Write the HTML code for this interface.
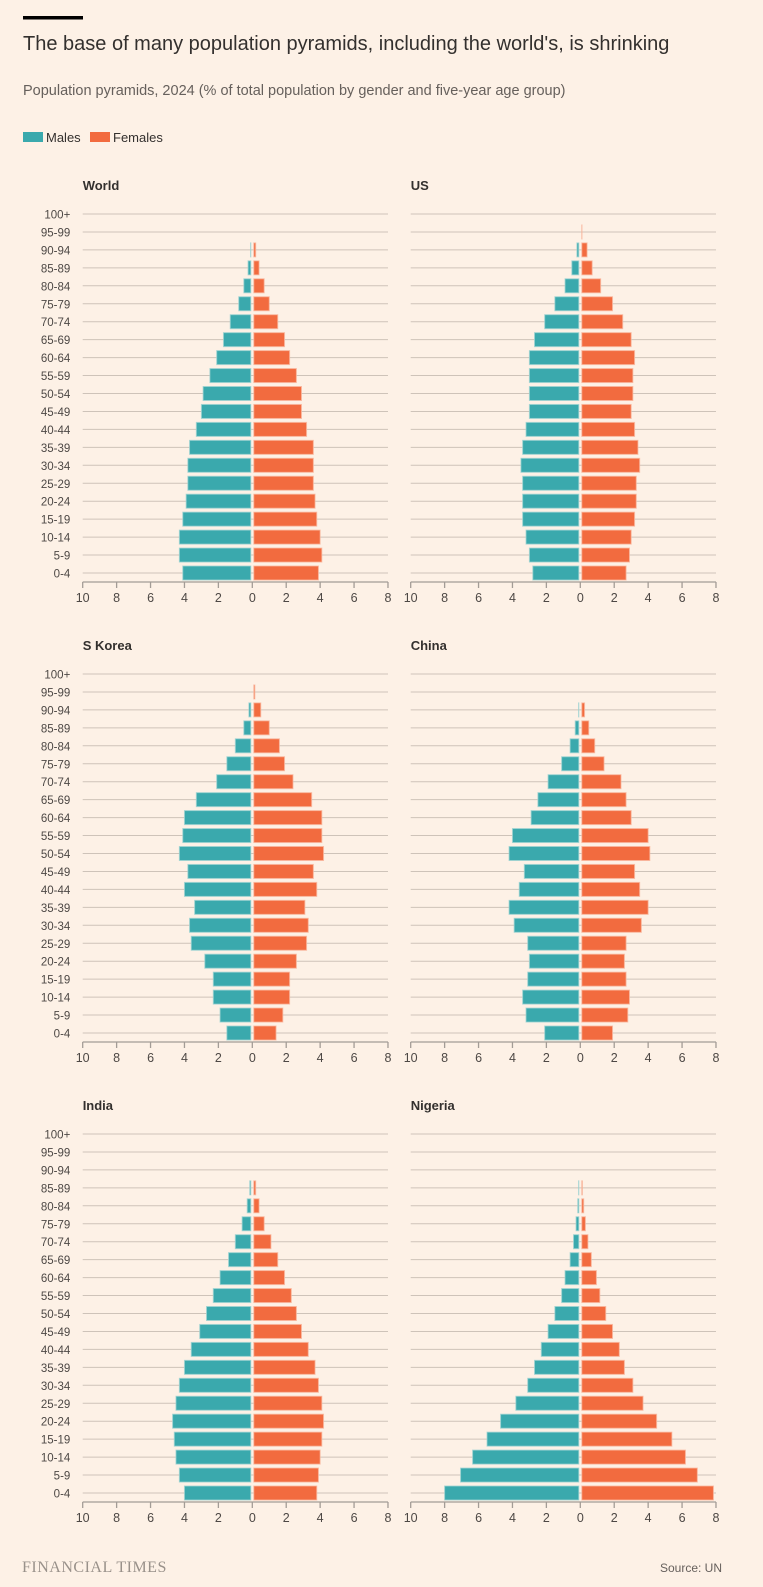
<!DOCTYPE html>
<html><head><meta charset="utf-8">
<style>
body{margin:0;background:#fdf1e6;width:763px;height:1587px;overflow:hidden;font-family:"Liberation Sans",sans-serif;}
svg{display:block}
</style></head>
<body>
<svg id="c" width="763" height="1587">
<rect x="0" y="0" width="763" height="1587" fill="#fdf1e6"/>
<rect x="23" y="16" width="60" height="3.5" fill="#000"/>
<text x="23" y="50" font-size="20" fill="#33302e">The base of many population pyramids, including the world's, is shrinking</text>
<text x="23" y="95" font-size="14.5" fill="#66605c">Population pyramids, 2024 (% of total population by gender and five-year age group)</text>
<rect x="23" y="132" width="20" height="10" fill="#3aa9ad"/>
<text x="46" y="142" font-size="13" fill="#33302e">Males</text>
<rect x="90" y="132" width="20" height="10" fill="#f26b3f"/>
<text x="113" y="142" font-size="13" fill="#33302e">Females</text>
<text x="22" y="1572" font-size="16" fill="#99918a" font-family="Liberation Serif, serif" letter-spacing="0.5">FINANCIAL TIMES</text>
<text x="722" y="1572" font-size="12" fill="#66605c" text-anchor="end">Source: UN</text>
</svg>
<script>
const ages = ["100+","95-99","90-94","85-89","80-84","75-79","70-74","65-69","60-64","55-59","50-54","45-49","40-44","35-39","30-34","25-29","20-24","15-19","10-14","5-9","0-4"];
const ticks = [10,8,6,4,2,0,2,4,6,8];
const countries = ["World","US","S Korea","China","India","Nigeria"];
const worldMales   = [0,0.05,0.1,0.25,0.5,0.8,1.3,1.7,2.1,2.5,2.9,3.0,3.3,3.7,3.8,3.8,3.9,4.1,4.3,4.3,4.1];
const worldFemales = [0,0.05,0.2,0.4,0.7,1.0,1.5,1.9,2.2,2.6,2.9,2.9,3.2,3.6,3.6,3.6,3.7,3.8,4.0,4.1,3.9];
const usMales      = [0,0.05,0.2,0.5,0.9,1.5,2.1,2.7,3.0,3.0,3.0,3.0,3.2,3.4,3.5,3.4,3.4,3.4,3.2,3.0,2.8];
const usFemales    = [0.02,0.1,0.4,0.7,1.2,1.9,2.5,3.0,3.2,3.1,3.1,3.0,3.2,3.4,3.5,3.3,3.3,3.2,3.0,2.9,2.7];
const krMales      = [0,0.05,0.2,0.5,1.0,1.5,2.1,3.3,4.0,4.1,4.3,3.8,4.0,3.4,3.7,3.6,2.8,2.3,2.3,1.9,1.5];
const krFemales    = [0.02,0.15,0.5,1.0,1.6,1.9,2.4,3.5,4.1,4.1,4.2,3.6,3.8,3.1,3.3,3.2,2.6,2.2,2.2,1.8,1.4];
const cnMales      = [0,0.03,0.1,0.3,0.6,1.1,1.9,2.5,2.9,4.0,4.2,3.3,3.6,4.2,3.9,3.1,3.0,3.1,3.4,3.2,2.1];
const cnFemales    = [0.01,0.06,0.25,0.5,0.85,1.4,2.4,2.7,3.0,4.0,4.1,3.2,3.5,4.0,3.6,2.7,2.6,2.7,2.9,2.8,1.9];
const inMales      = [0,0.02,0.05,0.15,0.3,0.6,1.0,1.4,1.9,2.3,2.7,3.1,3.6,4.0,4.3,4.5,4.7,4.6,4.5,4.3,4.0];
const inFemales    = [0,0.03,0.08,0.2,0.4,0.7,1.1,1.5,1.9,2.3,2.6,2.9,3.3,3.7,3.9,4.1,4.2,4.1,4.0,3.9,3.8];
const ngMales      = [0,0.01,0.05,0.1,0.15,0.25,0.4,0.6,0.9,1.1,1.5,1.9,2.3,2.7,3.1,3.8,4.7,5.5,6.35,7.06,8.0];
const ngFemales    = [0,0.02,0.06,0.12,0.2,0.3,0.45,0.65,0.95,1.15,1.5,1.9,2.3,2.6,3.1,3.7,4.5,5.4,6.2,6.9,7.85];
const malesSets = [worldMales,usMales,krMales,cnMales,inMales,ngMales];
const femalesSets = [worldFemales,usFemales,krFemales,cnFemales,inFemales,ngFemales];

const NS="http://www.w3.org/2000/svg";
const svg=document.getElementById('c');
function mk(tag,attrs,parent){const e=document.createElementNS(NS,tag);for(const k in attrs)e.setAttribute(k,attrs[k]);(parent||svg).appendChild(e);return e;}
const UNIT=16.96, ROWH=17.95;
countries.forEach((name,ci)=>{
  const col=ci%2,row=Math.floor(ci/2);
  const zero=252.3+col*328, top=214+row*460;
  const xS=v=>zero+v*UNIT;
  const yS=i=>top+i*ROWH;
  const slug=name.toLowerCase().replace(/\s+/g,'-');
  const g=mk('g',{});
  
  
  const t=mk('text',{x:zero-169.6,y:top-24,'font-size':13,'font-weight':'bold',fill:'#33302e'},g);
  t.textContent=name;
  
  
  ages.forEach((a,i)=>{
    const y=yS(i);
    const gl=mk('line',{x1:xS(-10),x2:xS(8),y1:y,y2:y,stroke:'#cec3b9','stroke-width':1},g);
    
    
    if(col===0){
      const lb=mk('text',{x:zero-182,y:y+4.5,'font-size':11.5,fill:'#4d4845','text-anchor':'end'},g);
      lb.textContent=a;
      
      
    }
  });
  ages.forEach((a,i)=>{
    const y=yS(i);
    const m=malesSets[ci][i], f=femalesSets[ci][i];
    const mw=xS(0)-1.5-xS(-m);
    if(mw>0){const b=mk('rect',{x:xS(-m),y:y-7,width:mw,height:14,fill:'#3aa9ad',stroke:'#9fd3d2','stroke-width':1,'stroke-opacity':0.8},g);
      
      }
    const fw=xS(f)-xS(0)-1.5;
    if(fw>0){const b=mk('rect',{x:xS(0)+1.5,y:y-7,width:fw,height:14,fill:'#f26b3f',stroke:'#f9b79e','stroke-width':1,'stroke-opacity':0.8},g);
      
      }
  });
  const ay=yS(20)+9;
  const ax=mk('line',{x1:xS(-10),x2:xS(8),y1:ay,y2:ay,stroke:'#a39c96','stroke-width':1.3},g);
  
  
  ticks.forEach((tv,k)=>{
    const v=k<5?-tv:tv;
    const tk=mk('line',{x1:xS(v),x2:xS(v),y1:ay,y2:ay+6,stroke:'#a39c96','stroke-width':1.3},g);
    
    
    const tl=mk('text',{x:xS(v),y:ay+20,'font-size':12.5,fill:'#4d4845','text-anchor':'middle'},g);
    tl.textContent=tv;
    
    
  });
});
</script>
</body></html>
